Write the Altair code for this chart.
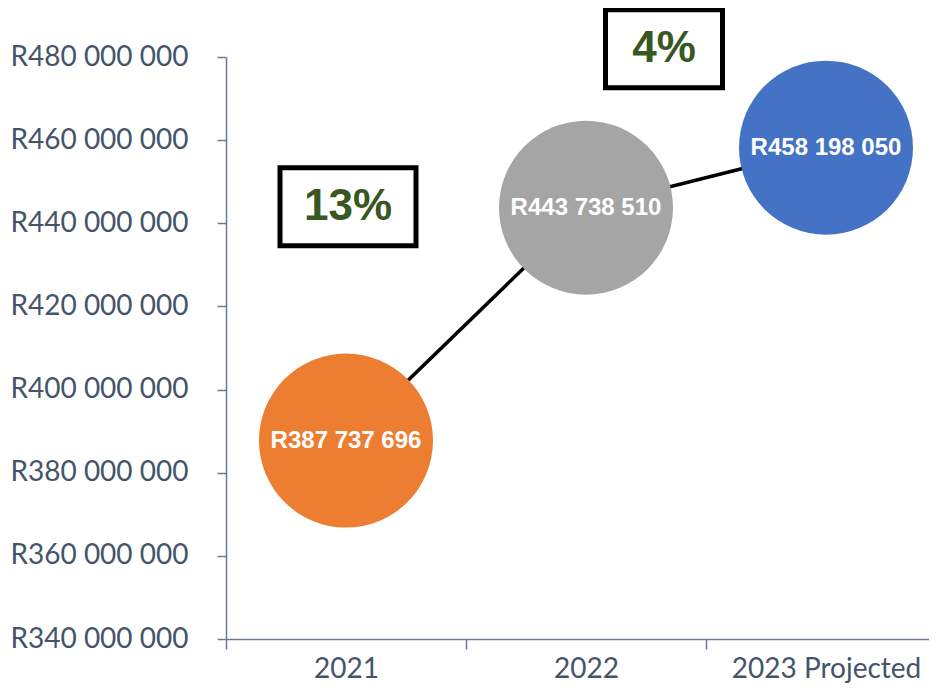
import json
import altair as alt
import pandas as pd

# ---- data ----
years = ["2021", "2022", "2023 Projected"]
revenue = [387737696, 443738510, 458198050]
point_colors = ["#ED7D31", "#A5A5A5", "#4472C4"]

y_ticks = [340000000, 360000000, 380000000, 400000000,
           420000000, 440000000, 460000000, 480000000]

growth_labels = ["13%", "4%"]
growth_year = ["2021", "2022"]          # category the annotation hangs on
growth_level = [444000000, 482000000]   # vertical anchor in data units

df = pd.DataFrame({"year": years, "revenue": revenue,
                   "idx": list(range(len(years)))})

AXIS_COL = "#6B7A90"
LABEL_COL = "#44546A"
BOLD_FONT = "'Liberation Sans Narrow', 'Arial Narrow', 'Liberation Sans', Arial, sans-serif"
RAND = "'R' + replace(format(datum.value, ','), regexp(',', 'g'), ' ')"

PLOT_W = 703          # visible part of the plot; each category band is 240 px
BAND = 240
x_scale = alt.Scale(domain=[-0.5, -0.5 + PLOT_W / BAND], nice=False, zero=False)
y_scale = alt.Scale(domain=[340000000, 480000000], nice=False, zero=False)

band_edges = [i - 0.5 for i in range(len(years))]
x_axis = alt.Axis(title=None, values=band_edges,
                  labelExpr=f"{json.dumps(years)}[round(datum.value + 0.5)]",
                  labelOffset=BAND / 2, labelFlush=False, labelBound=False,
                  labelFont="Lato", labelFontSize=28,
                  labelColor=LABEL_COL, domainColor=AXIS_COL, tickColor=AXIS_COL,
                  domainWidth=1.5, tickWidth=1.5, tickSize=10, labelPadding=6,
                  labelAngle=0, labelLimit=0, labelOverlap=False, grid=False)
y_axis = alt.Axis(title=None, values=y_ticks, labelExpr=RAND, labelFont="Lato",
                  labelFontSize=28, labelColor=LABEL_COL, domainColor=AXIS_COL,
                  tickColor=AXIS_COL, domainWidth=1.5, tickWidth=1.5, tickSize=9,
                  labelPadding=29, grid=False)

def xe():
    return alt.X("idx:Q", scale=x_scale, axis=x_axis)

def ye():
    return alt.Y("revenue:Q", scale=y_scale, axis=y_axis)

base = alt.Chart(df)

line = base.mark_line(color="black", strokeWidth=3.5).encode(x=xe(), y=ye())

circles = base.mark_circle(size=30276, opacity=1).encode(
    x=xe(), y=ye(),
    color=alt.Color("year:N", scale=alt.Scale(domain=years, range=point_colors), legend=None),
)

labels = base.transform_calculate(
    lab="'R' + replace(format(datum.revenue, ','), regexp(',', 'g'), ' ')"
).mark_text(font=BOLD_FONT, fontWeight="bold", fontSize=24,
            color="white", baseline="middle", align="center").encode(
    x=xe(), y=ye(), text="lab:N")

ann_df = pd.DataFrame({"idx": [years.index(y) for y in growth_year],
                       "revenue": growth_level, "txt": growth_labels})

def annotation(i, x_off, half_h, box_w):
    d = ann_df.iloc[[i]]
    path = f"M-1,-{half_h}L1,-{half_h}L1,{half_h}L-1,{half_h}Z"
    box = alt.Chart(d).mark_point(shape=path, size=box_w * box_w, filled=False,
                                  stroke="black", strokeWidth=5, opacity=1,
                                  xOffset=x_off).encode(x=xe(), y=ye())
    txt = alt.Chart(d).mark_text(font=BOLD_FONT, fontWeight="bold",
                                 fontSize=44, color="#385723", baseline="middle",
                                 align="center", xOffset=x_off).encode(
        x=xe(), y=ye(), text="txt:N")
    return [box, txt]

ann = annotation(0, 2, 0.5735, 136) + annotation(1, 78, 0.6667, 117)

chart = alt.layer(line, circles, labels, *ann).properties(
    width=PLOT_W, height=582,
    autosize=alt.AutoSizeParams(type="none"),
    padding={"left": 218, "top": 49, "right": 0, "bottom": 44},
).configure_view(stroke=None)

chart.save("out.html", embed_options={"renderer": "svg", "actions": False})
